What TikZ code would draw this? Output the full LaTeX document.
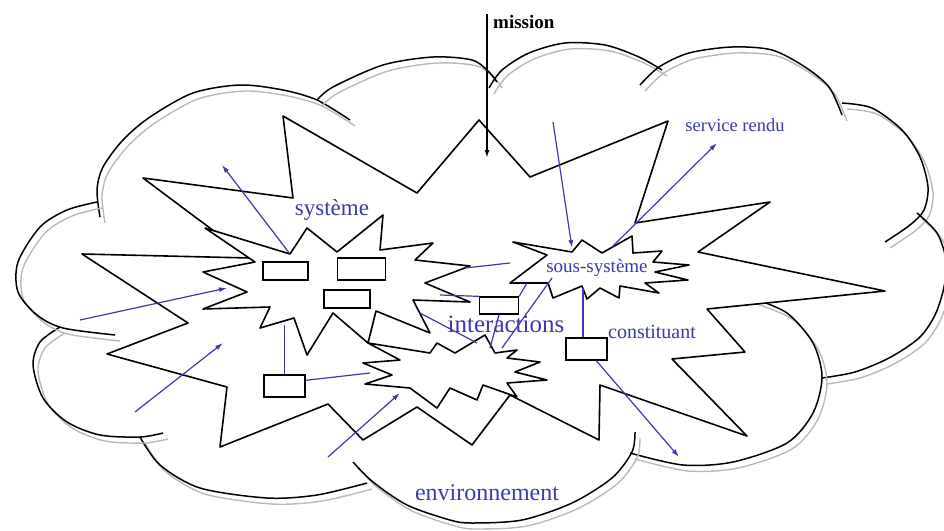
\documentclass[tikz,border=0pt]{standalone}
\usepackage{fontspec}
\setmainfont{Liberation Serif}
\usetikzlibrary{arrows.meta}
\definecolor{inkblue}{RGB}{58,58,172}
\tikzset{
    lobe/.style = {black, line width = 1.5pt},
    lobeshade/.style = {gray!55, line width = 1.4pt, shift = {(5, 6)}},
    jagged/.style = {black, line width = 1.6pt, fill = white, line join = round},
    part/.style = {draw = black, fill = white, line width = 1.3pt, inner sep = 0pt},
    link/.style = {inkblue, line width = 1.2pt},
    linkto/.style = {link, -{Latex[length = 8pt, width = 5pt]}},
    tag/.style = {text = inkblue, inner sep = 0pt}
}
\newcommand{\cloudlobe}[1]{%
    \draw[lobeshade] plot[smooth] coordinates {#1};
    \draw[lobe] plot[smooth] coordinates {#1};}

\begin{document}
\begin{tikzpicture}[x = 1pt, y = -1pt]
            \useasboundingbox (0, 0) rectangle (944, 530);

            \cloudlobe{(100,217) (97,190) (103,167) (123,140) (150,117) (193,93) (240,85) (283,90) (317,100) (350,120)}
            \cloudlobe{(317,100) (333,87) (383,65) (433,57) (472,60) (489,72) (497,82)}
            \cloudlobe{(489,88) (502,70) (529,53) (565,43) (605,45) (639,57) (662,70)}
            \cloudlobe{(640,85) (659,67) (689,53) (732,47) (772,50) (805,67) (829,87) (842,115)}
            \cloudlobe{(842,103) (872,108) (902,130) (920,157) (928,187) (924,210) (910,225) (885,242)}
            \cloudlobe{(917,213) (937,233) (946,260) (944,287) (935,315) (919,338) (889,358) (855,372) (822,378)}
            \cloudlobe{(752,298) (787,313) (813,343) (822,377) (813,413) (787,443) (733,462) (683,465) (630,453)}
            \cloudlobe{(353,462) (373,482) (407,505) (450,520) (472,523) (522,520) (572,503) (612,478) (632,452) (635,432)}
            \cloudlobe{(140,437) (160,465) (200,488) (267,498) (317,495) (367,483)}
            \cloudlobe{(60,327) (40,342) (33,365) (43,398) (67,422) (100,435) (140,437) (163,433)}
            \cloudlobe{(97,202) (67,210) (40,227) (18,262) (18,292) (37,315) (63,328) (115,335)}

            \filldraw[jagged] (668,121) -- (635,223) -- (770,202) -- (698,252) -- (885,291) -- (707,309) -- (745,352) -- (672,359) -- (747,436) -- (600,385) -- (599,440) -- (510,395) -- (472,445) -- (417,407) -- (363,440) -- (328,404) -- (220,447) -- (227,387) -- (107,354) -- (188,323) -- (82,254) -- (250,258) -- (143,178) -- (293,198) -- (283,116) -- (417,193) -- (479,120) -- (530,177) -- cycle;

            \filldraw[jagged] (205,228) -- (290,254) -- (307,228) -- (337,252) -- (383,215) -- (380,250) -- (433,243) -- (415,260) -- (470,266) -- (425,283) -- (470,302) -- (413,300) -- (430,333) -- (376,311) -- (368,343) -- (333,313) -- (307,355) -- (294,318) -- (260,328) -- (270,307) -- (203,309) -- (247,292) -- (203,272) -- (255,262) -- cycle;

            \filldraw[jagged] (368,343) -- (430,353) -- (437,343) -- (455,353) -- (485,335) -- (495,353) -- (517,350) -- (507,358) -- (540,362) -- (515,372) -- (547,380) -- (507,383) -- (517,397) -- (483,385) -- (477,400) -- (450,388) -- (437,408) -- (410,388) -- (365,384) -- (392,375) -- (363,363) -- (400,360) -- cycle;

            \filldraw[jagged] (513,242) -- (572,252) -- (582,240) -- (602,253) -- (632,236) -- (633,253) -- (662,251) -- (653,262) -- (689,265) -- (655,272) -- (688,280) -- (645,283) -- (659,293) -- (620,286) -- (619,298) -- (600,288) -- (587,299) -- (582,286) -- (553,298) -- (548,283) -- (510,283) -- (547,255) -- cycle;

            \node[part, minimum width = 45pt, minimum height = 18pt] (box1) at (285.5, 271) {};
            \node[part, minimum width = 48pt, minimum height = 22pt] (box2) at (361.5, 269) {};
            \node[part, minimum width = 46pt, minimum height = 18pt] (box3) at (347, 299) {};
            \node[part, minimum width = 41pt, minimum height = 22pt] (box4) at (284.5, 386) {};
            \node[part, minimum width = 39pt, minimum height = 17pt] (box5) at (499, 305.5) {};
            \node[part, minimum width = 41pt, minimum height = 22pt] (box6) at (586.5, 349) {};

            \coordinate (systop) at (290, 254);
            \coordinate (sysout) at (222, 165);
            \coordinate (infirst) at (80, 320);
            \coordinate (sysleft) at (227, 288);
            \coordinate (insecond) at (135, 412);
            \coordinate (syslow) at (223, 343);
            \coordinate (inthird) at (328, 457);
            \coordinate (intleft) at (400, 393);
            \coordinate (sysbottom) at (284.5, 325);
            \coordinate (intside) at (370, 373);
            \coordinate (sysright) at (465, 268);
            \coordinate (subleft) at (510, 263);
            \coordinate (sysedge) at (440, 295);
            \coordinate (syscorner) at (420, 313);
            \coordinate (inttop) at (477, 343);
            \coordinate (subfoot) at (527, 283);
            \coordinate (subheel) at (552, 278);
            \coordinate (intright) at (502, 348);
            \coordinate (intmid) at (490, 348);
            \coordinate (missionin) at (553, 122);
            \coordinate (subtop) at (572, 248);
            \coordinate (subpeak) at (612, 247);
            \coordinate (serviceout) at (717, 143);
            \coordinate (subbottom) at (583, 288);
            \coordinate (partout) at (679, 457);

            \draw[linkto] (systop) -- (sysout);
            \draw[linkto] (infirst) -- (sysleft);
            \draw[linkto] (insecond) -- (syslow);
            \draw[linkto] (inthird) -- (intleft);
            \draw[link] (sysbottom) -- (box4.north -| sysbottom);
            \draw[link] (box4.15) -- (intside);
            \draw[link] (sysright) -- (subleft);
            \draw[link] (sysedge) -- (box5.north west);
            \draw[link] (syscorner) -- (inttop);
            \draw[link] (subfoot) -- (box5.north east);
            \draw[link] (subheel) -- (intright);
            \draw[link] (box5.south) -- (intmid);
            \draw[linkto] (missionin) -- (subtop);
            \draw[linkto] (subpeak) -- (serviceout);
            \draw[link] (subbottom) -- (box6.north -| subbottom);
            \draw[linkto] (box6.-50) -- (partout);

            \coordinate (missiontop) at (487, 14);
            \coordinate (missionend) at (487, 158);
            \draw[black, line width = 1.8pt, -{Latex[length = 8pt, width = 5pt]}] (missiontop) -- (missionend);
            \node[anchor = west, inner sep = 0pt, font = \bfseries\fontsize{19}{21}\selectfont] (mission) at (493, 22) {mission};

            \node[tag, font = \fontsize{18.5}{21}\selectfont] (service) at (735, 125) {service rendu};
            \node[tag, font = \fontsize{23}{26}\selectfont] (system) at (332, 210) {système};
            \node[tag, font = \fontsize{19}{21}\selectfont] (subsystem) at (597, 268) {sous-système};
            \node[tag, font = \fontsize{25}{28}\selectfont] (interact) at (506, 324) {interactions};
            \node[tag, font = \fontsize{20}{22}\selectfont] (component) at (652, 332) {constituant};
            \node[tag, font = \fontsize{24}{27}\selectfont] (surround) at (487, 493) {environnement};

        \end{tikzpicture}
\end{document}
